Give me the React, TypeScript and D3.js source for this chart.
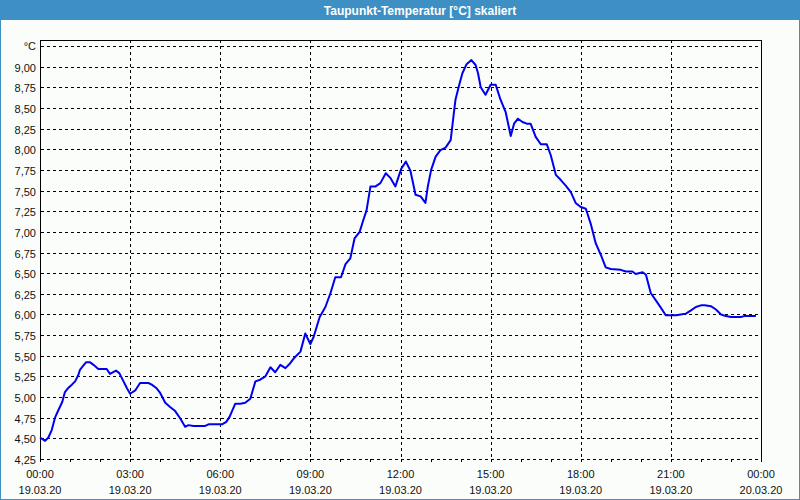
import React from "react";
import * as d3 from "d3";

const title = "Taupunkt-Temperatur [°C] skaliert";
const unitLabel = "°C";

// time in hours since 19.03.20 00:00
const hours = [
  0.0, 0.17, 0.28, 0.39, 0.5, 0.61, 0.74, 0.83, 0.94, 1.06, 1.17, 1.28, 1.33, 1.42, 1.53, 1.67, 1.78, 1.94,
  2.22, 2.33, 2.53, 2.64, 2.78, 2.89, 3.0, 3.17, 3.33, 3.61, 3.72, 3.87, 4.0, 4.17, 4.33, 4.5, 4.67, 4.83,
  4.94, 5.11, 5.5, 5.61, 6.06, 6.2, 6.31, 6.5, 6.67, 6.83, 7.0, 7.17, 7.33, 7.5, 7.67, 7.83, 8.0, 8.17,
  8.33, 8.43, 8.56, 8.67, 8.83, 9.0, 9.11, 9.31, 9.5, 9.67, 9.83, 10.02, 10.17, 10.33, 10.47, 10.64, 10.76,
  10.87, 11.0, 11.17, 11.33, 11.51, 11.67, 11.83, 12.02, 12.18, 12.33, 12.5, 12.67, 12.83, 12.91, 13.02,
  13.17, 13.33, 13.5, 13.67, 13.76, 13.83, 13.94, 14.06, 14.2, 14.36, 14.5, 14.58, 14.67, 14.83, 15.0,
  15.17, 15.33, 15.5, 15.67, 15.78, 15.91, 16.06, 16.2, 16.33, 16.5, 16.67, 16.87, 17.0, 17.17, 17.33,
  17.5, 17.67, 17.83, 18.0, 18.17, 18.33, 18.5, 18.67, 18.83, 19.0, 19.33, 19.5, 19.72, 19.83, 20.06,
  20.17, 20.33, 20.5, 20.67, 20.83, 21.17, 21.33, 21.5, 21.67, 21.83, 22.0, 22.13, 22.33, 22.5, 22.67,
  22.83, 23.0, 23.33, 23.44, 23.83,
];

const dewPoint = [
  4.51, 4.47, 4.51, 4.6, 4.75, 4.84, 4.94, 5.06, 5.11, 5.15, 5.19, 5.27, 5.33, 5.37, 5.42, 5.42, 5.39, 5.34,
  5.34, 5.28, 5.32, 5.29, 5.19, 5.11, 5.04, 5.08, 5.17, 5.17, 5.15, 5.11, 5.05, 4.93, 4.88, 4.83, 4.74, 4.64,
  4.66, 4.65, 4.65, 4.67, 4.67, 4.7, 4.76, 4.92, 4.92, 4.93, 4.98, 5.19, 5.21, 5.25, 5.36, 5.3, 5.39, 5.35,
  5.41, 5.46, 5.51, 5.55, 5.77, 5.64, 5.73, 5.97, 6.09, 6.26, 6.45, 6.45, 6.61, 6.68, 6.92, 7.0, 7.14,
  7.26, 7.55, 7.55, 7.59, 7.71, 7.65, 7.55, 7.76, 7.85, 7.74, 7.45, 7.43, 7.35, 7.55, 7.75,
  7.91, 7.99, 8.02, 8.11, 8.39, 8.6, 8.76, 8.92, 9.03, 9.08, 9.02, 8.92, 8.75, 8.66, 8.78,
  8.78, 8.6, 8.45, 8.16, 8.31, 8.37, 8.33, 8.31, 8.31, 8.15, 8.06, 8.06, 7.93, 7.69, 7.63,
  7.56, 7.48, 7.35, 7.3, 7.28, 7.1, 6.86, 6.72, 6.57, 6.55, 6.54, 6.52, 6.52, 6.49, 6.51,
  6.48, 6.26, 6.17, 6.08, 5.99, 5.99, 6.0, 6.01, 6.05, 6.09, 6.11, 6.11, 6.1, 6.06, 6.0,
  5.98, 5.97, 5.97, 5.98, 5.98,
];

const yTicks = [4.25, 4.5, 4.75, 5.0, 5.25, 5.5, 5.75, 6.0, 6.25, 6.5, 6.75, 7.0, 7.25, 7.5, 7.75, 8.0, 8.25, 8.5, 8.75, 9.0];
const yTop = 9.25;
const xMajorHours = [0, 3, 6, 9, 12, 15, 18, 21, 24];
const xTimeLabels = ["00:00", "03:00", "06:00", "09:00", "12:00", "15:00", "18:00", "21:00", "00:00"];
const xDateLabels = ["19.03.20", "19.03.20", "19.03.20", "19.03.20", "19.03.20", "19.03.20", "19.03.20", "19.03.20", "20.03.20"];

const W = 800;
const H = 500;
const plot = { left: 40, right: 761, top: 40, bottom: 459 };
const frameBlue = "#3d8fc4";
const font = "'Liberation Sans', Arial, sans-serif";

export default function App() {
  const x = d3.scaleLinear().domain([0, 24]).range([plot.left, plot.right]);
  const y = d3.scaleLinear().domain([4.25, yTop]).range([plot.bottom, 46]);
  const pts: [number, number][] = hours.map((h, i) => [h, dewPoint[i]]);
  const line = d3
    .line<[number, number]>()
    .x((d) => x(d[0]))
    .y((d) => y(d[1]));
  const minorTicks = d3.range(0, 25);
  const fmt = (v: number) => v.toFixed(2).replace(".", ",");

  return (
    <div style={{ position: "absolute", left: 0, top: 0 }}>
      <svg width={W} height={H} style={{ display: "block" }}>
        <rect x={0} y={0} width={W} height={H} fill="#fbfdfb" />
        <rect x={0} y={0} width={W} height={20} fill={frameBlue} />
        <text x={420} y={14.5} textAnchor="middle" fill="#ffffff" fontFamily={font} fontWeight="bold" fontSize={12}>
          {title}
        </text>
        {/* outer border */}
        <line x1={0.5} y1={20} x2={0.5} y2={H} stroke={frameBlue} strokeWidth={1} />
        <line x1={W - 0.5} y1={20} x2={W - 0.5} y2={H} stroke={frameBlue} strokeWidth={1} />
        <line x1={0} y1={H - 0.5} x2={W} y2={H - 0.5} stroke={frameBlue} strokeWidth={1} />

        {/* horizontal grid */}
        {[...yTicks, yTop].map((v) => (
          <line
            key={"h" + v}
            x1={plot.left + 1}
            x2={plot.right}
            y1={Math.round(y(v)) + 0.5}
            y2={Math.round(y(v)) + 0.5}
            stroke="#000"
            strokeWidth={1}
            strokeDasharray="3,3"
          />
        ))}
        {/* vertical grid */}
        {xMajorHours.slice(1, -1).map((h) => (
          <line
            key={"v" + h}
            x1={Math.round(x(h)) + 0.5}
            x2={Math.round(x(h)) + 0.5}
            y1={plot.top}
            y2={plot.bottom}
            stroke="#000"
            strokeWidth={1}
            strokeDasharray="3,3"
          />
        ))}
        {/* frame */}
        <line x1={plot.left + 0.5} x2={plot.left + 0.5} y1={plot.top} y2={plot.bottom + 3} stroke="#000" />
        <line x1={plot.right + 0.5} x2={plot.right + 0.5} y1={plot.top} y2={plot.bottom + 3} stroke="#000" />
        <line x1={plot.left} x2={plot.right + 1} y1={plot.top + 0.5} y2={plot.top + 0.5} stroke="#000" />
        {/* minor ticks */}
        {minorTicks.map((h) => (
          <line
            key={"t" + h}
            x1={Math.round(x(h)) + 0.5}
            x2={Math.round(x(h)) + 0.5}
            y1={plot.bottom}
            y2={plot.bottom + 3}
            stroke="#000"
          />
        ))}

        {/* y labels */}
        {yTicks.map((v) => (
          <text key={"yl" + v} x={36} y={Math.round(y(v)) + 4.5} textAnchor="end" fontFamily={font} fontSize={11} fill="#111">
            {fmt(v)}
          </text>
        ))}
        <text x={36} y={Math.round(y(yTop)) + 3.5} textAnchor="end" fontFamily={font} fontSize={11} fill="#111">
          {unitLabel}
        </text>

        {/* x labels */}
        {xMajorHours.map((h, i) => (
          <g key={"xl" + i}>
            <text x={x(h)} y={478} textAnchor="middle" fontFamily={font} fontSize={11} fill="#111">
              {xTimeLabels[i]}
            </text>
            <text x={x(h)} y={493.5} textAnchor="middle" fontFamily={font} fontSize={11} fill="#111">
              {xDateLabels[i]}
            </text>
          </g>
        ))}

        <path d={line(pts) || ""} fill="none" stroke="#0000f0" strokeWidth={2} strokeLinejoin="round" />
      </svg>
    </div>
  );
}
